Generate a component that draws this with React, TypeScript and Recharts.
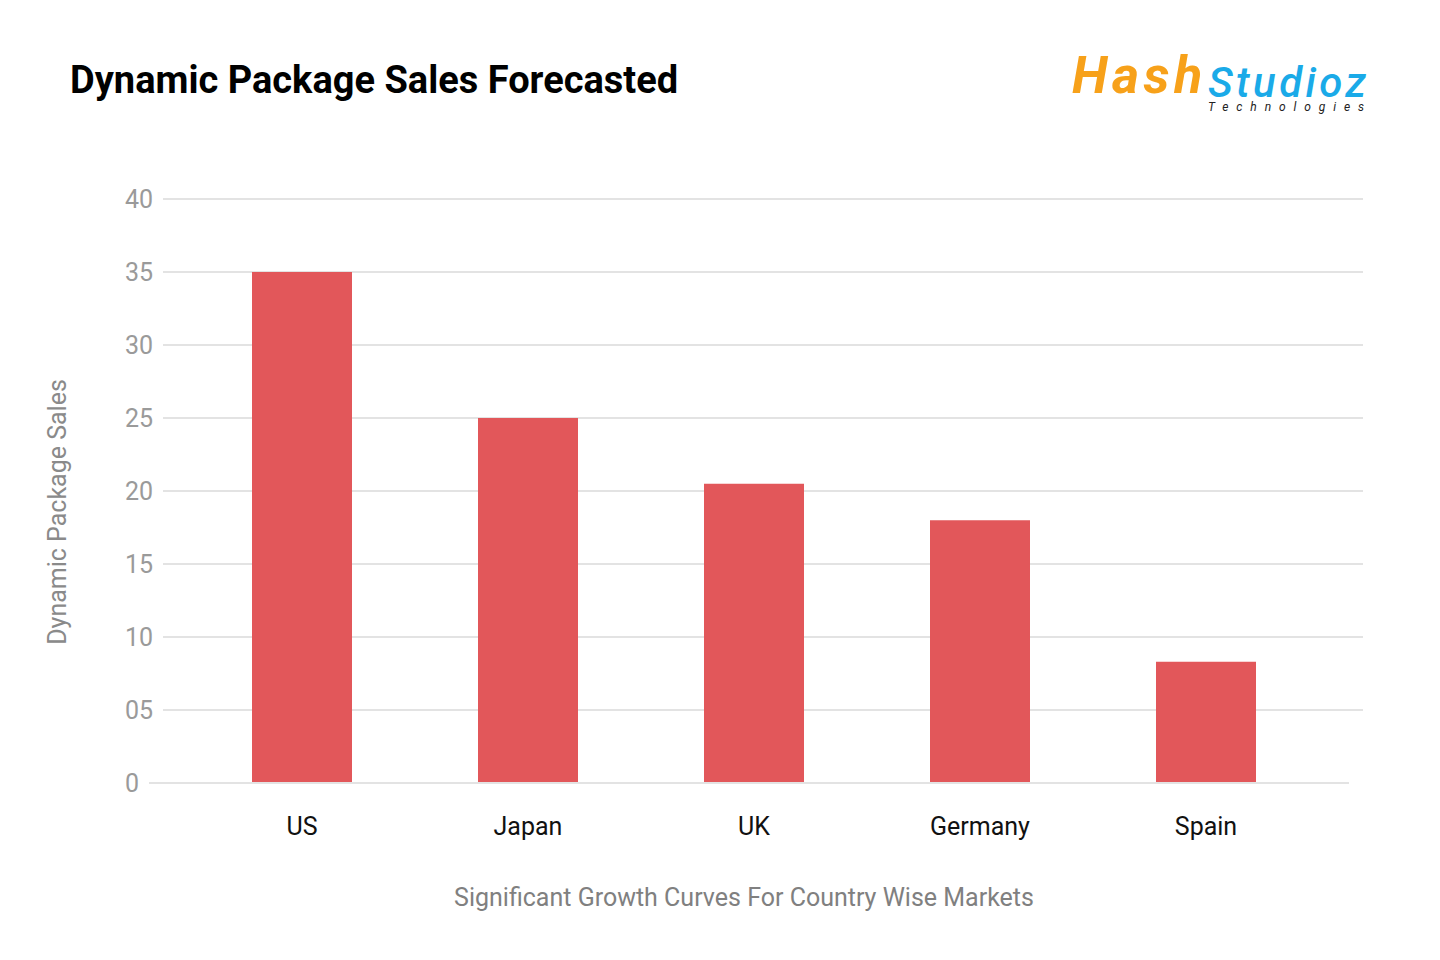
import { BarChart, Bar, XAxis, YAxis, CartesianGrid, ReferenceLine, Label } from "recharts";

const countries = ["US", "Japan", "UK", "Germany", "Spain"];
const sales = [35, 25, 20.5, 18, 8.3];
const yTicks = [0, 5, 10, 15, 20, 25, 30, 35, 40];
const gridValues = [5, 10, 15, 20, 25, 30, 35, 40];

const chartTitle = "Dynamic Package Sales Forecasted";
const yTitle = "Dynamic Package Sales";
const xTitle = "Significant Growth Curves For Country Wise Markets";

const data = countries.map((country, i) => ({ country, sales: sales[i] }));

const FONT = "Roboto, 'Noto Sans', sans-serif";
const GRID = "#e3e3e3";

const YTick = ({ x, y, payload }: any) => {
  const v = payload.value;
  const label = v === 0 ? "0" : String(v).padStart(2, "0");
  return (
    <text x={v === 0 ? x - 14 : x} y={y} dy={8.8} textAnchor="end" fill="#9a9a9a" fontSize={25} fontFamily={FONT}>
      {label}
    </text>
  );
};

const XTick = ({ x, y, payload }: any) => (
  <text x={x} y={y} dy={51.5} textAnchor="middle" fill="#111" fontSize={25} fontFamily={FONT}>
    {payload.value}
  </text>
);

const XTitle = ({ viewBox }: any) => (
  <text x={viewBox.x + viewBox.width / 2 - 19} y={viewBox.y + 123} textAnchor="middle" fill="#808080" fontSize={25} fontFamily={FONT}>
    {xTitle}
  </text>
);

const YTitle = ({ viewBox }: any) => {
  const cx = viewBox.x + 66;
  const cy = viewBox.y + viewBox.height / 2 + 21;
  return (
    <text x={cx} y={cy} transform={`rotate(-90, ${cx}, ${cy})`} textAnchor="middle" fill="#8a8a8a" fontSize={25} fontFamily={FONT}>
      {yTitle}
    </text>
  );
};

const BaseLine = (p: any) => (
  <line x1={p.x1 - 14} y1={p.y1} x2={p.x2 - 14} y2={p.y2} stroke={GRID} strokeWidth={2} />
);

const Logo = () => (
  <div style={{ position: "absolute", left: 1068, top: 38, width: 320, height: 80, fontFamily: FONT }}>
    <span style={{ position: "absolute", left: 4, top: 12, fontSize: 52, fontWeight: 700, fontStyle: "italic", color: "#F7A11A", lineHeight: 1, letterSpacing: 4.5 }}>
      Hash
    </span>
    <span style={{ position: "absolute", left: 140, top: 29, fontSize: 42, fontWeight: 500, fontStyle: "italic", color: "#1AAAE8", lineHeight: "32px", letterSpacing: 3.4 }}>
      Studioz
    </span>
    <span style={{ position: "absolute", left: 140, top: 63, fontSize: 12, fontStyle: "italic", color: "#222", lineHeight: 1, letterSpacing: 7.9 }}>
      Technologies
    </span>
  </div>
);

export default function App() {
  return (
    <div style={{ position: "relative", width: 1440, height: 960, background: "#fff", overflow: "hidden" }}>
      <style>{`body{margin:0}`}</style>
      <div style={{ position: "absolute", left: 70, top: 61, fontFamily: FONT, fontWeight: 700, fontSize: 38, lineHeight: 1, color: "#000" }}>
        {chartTitle}
      </div>
      <Logo />
      <div style={{ position: "absolute", left: 0, top: 0 }}>
        <BarChart width={1440} height={960} data={data} margin={{ top: 199, right: 77, bottom: 0, left: 0 }}>
          <CartesianGrid vertical={false} horizontalValues={gridValues} stroke={GRID} strokeWidth={2} />
          <YAxis
            domain={[0, 40]}
            ticks={yTicks}
            width={163}
            axisLine={false}
            tickLine={false}
            tickSize={0}
            tickMargin={10}
            tick={<YTick />}
            interval={0}
          >
            <Label content={<YTitle />} />
          </YAxis>
          <XAxis
            dataKey="country"
            height={177}
            padding={{ left: 26, right: 44 }}
            axisLine={false}
            tickLine={false}
            tickSize={0}
            tickMargin={0}
            tick={<XTick />}
            interval={0}
          >
            <Label content={<XTitle />} />
          </XAxis>
          <ReferenceLine y={0} shape={BaseLine} />
          <Bar dataKey="sales" fill="#E2575A" barSize={100} isAnimationActive={false} />
        </BarChart>
      </div>
    </div>
  );
}
